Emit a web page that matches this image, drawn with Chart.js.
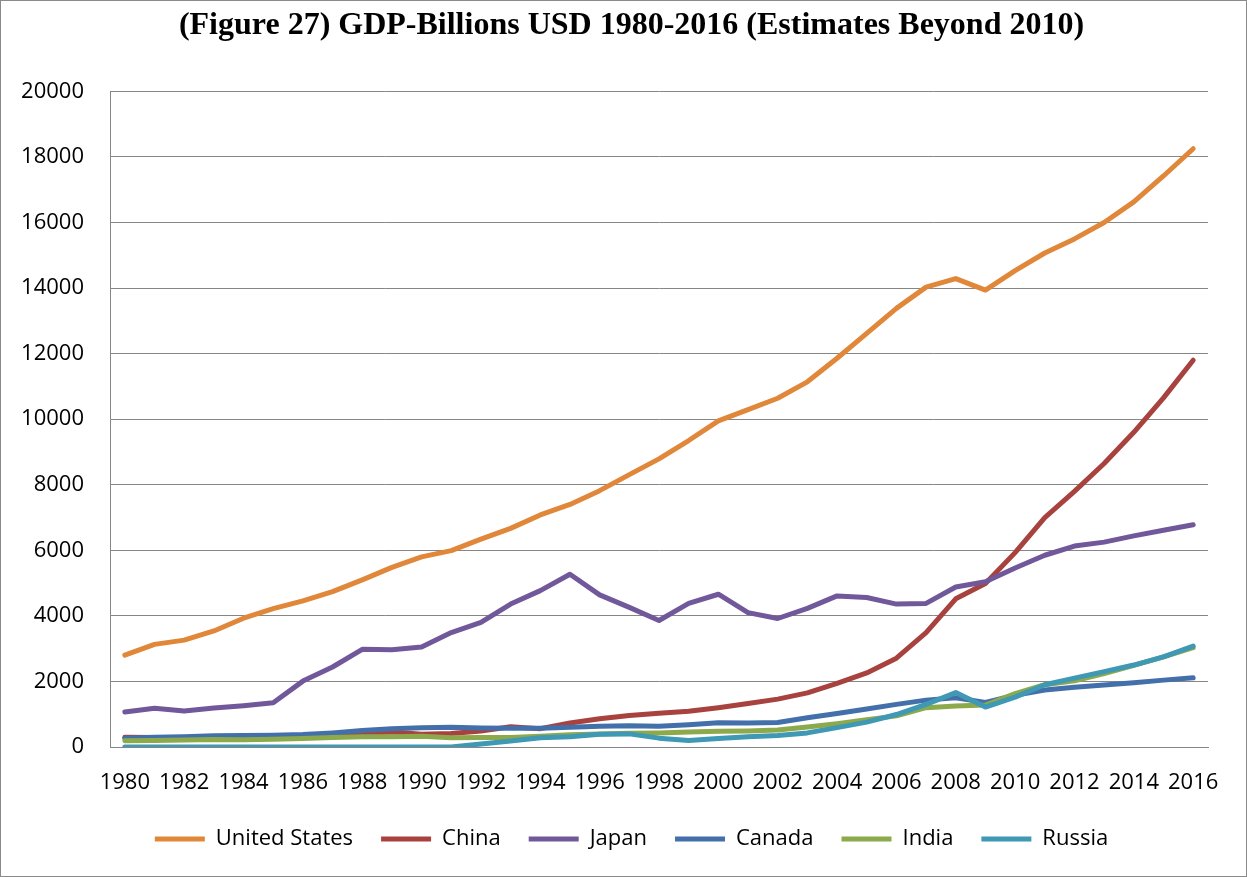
<!DOCTYPE html>
<html>
<head>
<meta charset="utf-8">
<script src="https://cdn.jsdelivr.net/npm/chart.js@4.4.1/dist/chart.umd.min.js"></script>
<style>
  html, body { margin: 0; padding: 0; background: #fff; }
  #wrap { width: 1247px; height: 877px; box-sizing: border-box; border: 1px solid #8a8a8a; }
  canvas { display: block; }
</style>
</head>
<body>
<div id="wrap"><canvas id="c" width="1245" height="875"></canvas></div>
<script>
const years = ['1980','1981','1982','1983','1984','1985','1986','1987','1988','1989','1990','1991','1992','1993','1994','1995','1996','1997','1998','1999','2000','2001','2002','2003','2004','2005','2006','2007','2008','2009','2010','2011','2012','2013','2014','2015','2016'];
const unitedStates = [2800,3130,3260,3540,3930,4220,4460,4740,5100,5480,5800,5990,6340,6670,7080,7400,7820,8310,8790,9350,9950,10290,10640,11140,11860,12620,13380,14030,14290,13940,14530,15070,15500,16000,16630,17420,18250];
const china = [300,290,280,300,310,310,300,330,410,460,390,410,490,620,560,730,860,960,1030,1090,1200,1330,1460,1650,1940,2260,2710,3490,4520,4990,5930,7000,7800,8650,9600,10650,11800];
const japan = [1070,1180,1100,1190,1260,1350,2010,2440,2980,2970,3050,3490,3800,4360,4770,5270,4640,4260,3860,4380,4660,4100,3920,4230,4610,4560,4360,4380,4880,5040,5460,5850,6130,6250,6440,6610,6780];
const canada = [270,300,310,340,350,360,380,430,500,560,590,600,580,570,570,600,630,650,630,680,740,730,750,890,1020,1160,1300,1430,1500,1360,1580,1740,1820,1890,1960,2040,2110];
const india = [190,200,210,230,220,240,260,290,310,310,330,280,290,290,330,370,400,420,430,460,480,490,520,610,710,830,950,1200,1250,1280,1630,1900,2020,2240,2490,2750,3030];
const russia = [0,0,0,0,0,0,0,0,0,0,0,0,90,180,280,310,390,400,270,200,260,310,350,430,590,760,990,1300,1660,1220,1520,1900,2100,2300,2500,2750,3080];
const seriesNames = ['United States','China','Japan','Canada','India','Russia'];
const seriesColors = ['#E0873A','#A8423F','#71589A','#4370AA','#8CAA4C','#3F98B4'];
const seriesData = [unitedStates, china, japan, canada, india, russia];
const yTicks = [0,2000,4000,6000,8000,10000,12000,14000,16000,18000,20000];

const tickFont = { family: "'Open Sans', 'Noto Sans', sans-serif", size: 22 };

const datasets = seriesNames.map((name, i) => ({
  label: name,
  data: seriesData[i],
  borderColor: seriesColors[i],
  backgroundColor: seriesColors[i],
  borderWidth: 5,
  pointRadius: 0,
  pointHoverRadius: 0,
  tension: 0,
  borderCapStyle: 'round',
  borderJoinStyle: 'round',
  fill: false,
  yAxisID: 'y',
  order: seriesNames.length - i
}));

new Chart(document.getElementById('c'), {
  type: 'line',
  data: { labels: years, datasets: datasets },
  options: {
    responsive: false,
    animation: false,
    layout: { padding: { left: 16, right: 0, top: 0, bottom: 16 } },
    plugins: {
      title: {
        display: true,
        text: '(Figure 27) GDP-Billions USD 1980-2016 (Estimates Beyond 2010)',
        color: '#000',
        font: { family: "'Liberation Serif', 'Times New Roman', serif", size: 32, weight: 'bold' },
        padding: { top: 6, bottom: 46 }
      },
      legend: {
        position: 'bottom',
        labels: {
          usePointStyle: true,
          pointStyle: 'line',
          pointStyleWidth: 50,
          boxHeight: 5,
          padding: 28,
          color: '#000',
          font: tickFont,
          sort: function(a, b) { return a.datasetIndex - b.datasetIndex; }
        }
      },
      tooltip: { enabled: false }
    },
    scales: {
      x: {
        offset: true,
        grid: { display: false, drawTicks: false },
        border: { display: true, color: '#868686', width: 1 },
        ticks: {
          autoSkip: false,
          maxRotation: 0,
          minRotation: 0,
          padding: 23,
          color: '#000',
          font: tickFont,
          callback: function(value, index) { return index % 2 === 0 ? years[index] : ''; }
        },
        afterFit: function(scale) { scale.height = 53; }
      },
      y: {
        min: 0,
        max: 20000,
        afterBuildTicks: function(scale) { scale.ticks = yTicks.map(v => ({ value: v })); },
        grid: { color: '#868686', lineWidth: 1, drawTicks: false },
        border: { display: true, color: '#868686', width: 1 },
        ticks: {
          padding: 26,
          color: '#000',
          font: tickFont,
          callback: function(v) { return String(v); }
        },
        afterFit: function(scale) { scale.width = 93; }
      },
      spacer: {
        type: 'linear',
        position: 'right',
        min: 0,
        max: 20000,
        grid: { display: false, drawTicks: false },
        border: { display: false },
        ticks: { display: false },
        afterFit: function(scale) { scale.width = 38; }
      }
    }
  }
});
</script>
</body>
</html>
